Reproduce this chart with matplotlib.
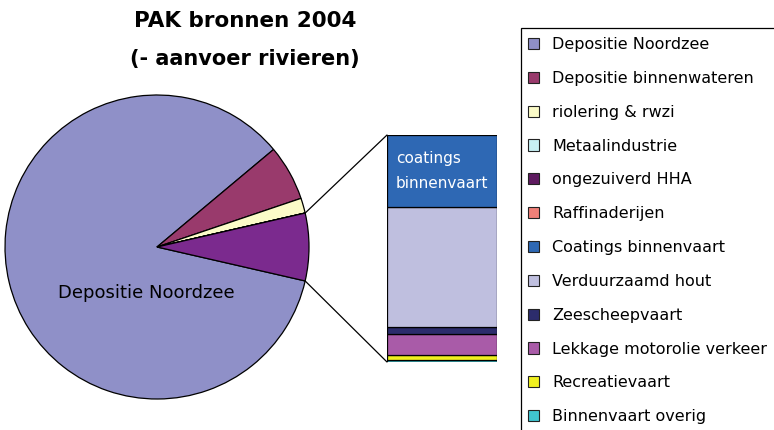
import numpy as np
import matplotlib
matplotlib.use('Agg')
import matplotlib.pyplot as plt
from matplotlib.patches import Patch, Rectangle, ConnectionPatch

# PAK bronnen 2004, aandeel in % van totaal
labels = ['Depositie Noordzee', 'Depositie binnenwateren', 'riolering & rwzi',
          'Metaalindustrie', 'ongezuiverd HHA', 'Raffinaderijen',
          'Coatings binnenvaart', 'Verduurzaamd hout', 'Zeescheepvaart',
          'Lekkage motorolie verkeer', 'Recreatievaart', 'Binnenvaart overig']
values = [85.3, 5.9, 1.6, 0.0, 0.0, 0.0, 2.27, 3.79, 0.23, 0.67, 0.16, 0.05]
colors = ['#8f90c8', '#993a6c', '#fbfbc8', '#c8f0f4', '#5e1a60', '#f08078',
          '#2e68b4', '#bfbfdf', '#2c2c6c', '#a95ba8', '#f0f020', '#40c4d0']
other_color = '#7b2a8e'

n_pie = 6  # eerste 6 in de taart, rest in de staaf
pie_vals = values[:n_pie] + [sum(values[n_pie:])]
pie_cols = colors[:n_pie] + [other_color]
bar_vals = values[n_pie:]
bar_cols = colors[n_pie:]
bar_labels = labels[n_pie:]

fig = plt.figure(figsize=(7.74, 4.30), dpi=100)

# taart
ax = fig.add_axes([5/774, 31/430, 304/774, 304/430])
other_ang = pie_vals[-1] / sum(pie_vals) * 360
wedges, _ = ax.pie(pie_vals, colors=pie_cols, startangle=-other_ang/2,
                   counterclock=False, radius=1,
                   wedgeprops=dict(edgecolor='black', linewidth=0.9))
ax.set_xlim(-1, 1)
ax.set_ylim(-1, 1)
ax.set_aspect('equal')
ax.axis('off')
ax.text(-0.07, -0.3, 'Depositie Noordzee', ha='center', va='center', fontsize=13)

# staaf
bx = fig.add_axes([387/774, 68/430, 110/774, 227/430])
bottom = 0
for v, c in zip(bar_vals[::-1], bar_cols[::-1]):
    bx.bar(0, v, bottom=bottom, width=1, color=c, edgecolor='black', linewidth=0.9)
    bottom += v
bx.set_xlim(-0.5, 0.5)
bx.set_ylim(0, bottom)
bx.axis('off')
bx.text(-0.42, bottom - bar_vals[0]/2, 'coatings\nbinnenvaart', color='white',
        ha='left', va='center', fontsize=11, linespacing=1.9)

# verbindingslijnen
w = wedges[-1]
for ang, yb in [(w.theta1, 0), (w.theta2, bottom)]:
    p = (np.cos(np.radians(ang)), np.sin(np.radians(ang)))
    con = ConnectionPatch(xyA=p, coordsA=ax.transData, xyB=(-0.5, yb),
                          coordsB=bx.transData, color='black', linewidth=0.9)
    fig.add_artist(con)

fig.text(245/774, 1 - 21/430, 'PAK bronnen 2004', ha='center', va='center',
         fontsize=15.5, fontweight='bold')
fig.text(245/774, 1 - 59/430, '(- aanvoer rivieren)', ha='center', va='center',
         fontsize=15, fontweight='bold')

# legenda
handles = [Patch(facecolor=c, edgecolor='#222222', linewidth=0.8) for c in colors]
fig.legend(handles, labels, loc='upper left', bbox_to_anchor=(528/774, 1 - 37/430),
           frameon=False, fontsize=11.5, handlelength=0.7, handleheight=0.7,
           handletextpad=0.8, labelspacing=1.18, borderpad=0, borderaxespad=0)
fig.add_artist(Rectangle((521/774, -0.1), 0.5, 1.1 - 28/430, transform=fig.transFigure,
                         fill=False, edgecolor='black', linewidth=0.9, clip_on=False))

plt.savefig('out.png', dpi=100)
